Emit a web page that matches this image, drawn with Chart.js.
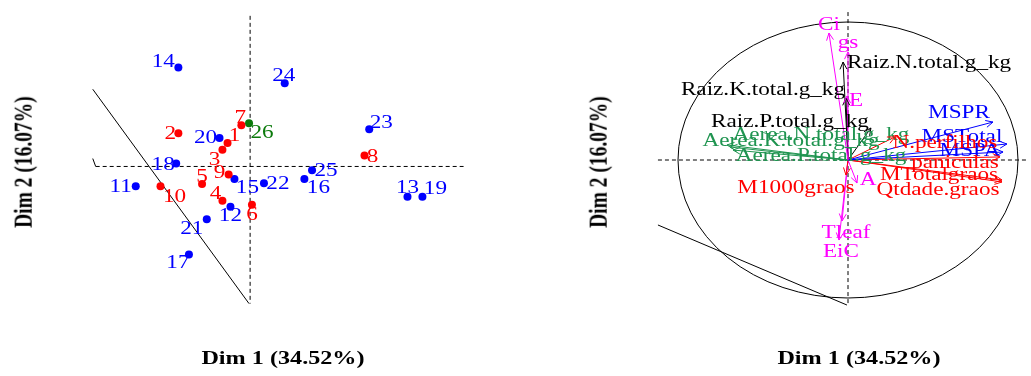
<!DOCTYPE html>
<html>
<head>
<meta charset="utf-8">
<script src="https://cdn.jsdelivr.net/npm/chart.js@4.4.0/dist/chart.umd.min.js"></script>
<style>
body{margin:0;background:#fff;width:1031px;height:376px;overflow:hidden;position:relative;font-family:"Liberation Serif","Times New Roman",serif;}
canvas{position:absolute;top:0;}
.titulo{position:absolute;font-weight:bold;font-size:19.5px;white-space:nowrap;line-height:1;color:#000;}
</style>
</head>
<body>
<canvas id="ind" width="515" height="376" style="left:0"></canvas>
<canvas id="var" width="516" height="376" style="left:515px"></canvas>
<div class="titulo" style="left:283px;top:358px;transform:translate(-50%,-50%) scaleX(1.24)">Dim 1 (34.52%)</div>
<div class="titulo" style="left:859px;top:358px;transform:translate(-50%,-50%) scaleX(1.24)">Dim 1 (34.52%)</div>
<div class="titulo" style="left:24px;top:162px;transform:translate(-50%,-50%) scaleX(1.24) rotate(-90deg)">Dim 2 (16.07%)</div>
<div class="titulo" style="left:599px;top:162px;transform:translate(-50%,-50%) scaleX(1.24) rotate(-90deg)">Dim 2 (16.07%)</div>
<script>
// Individuos (grafico da esquerda)
const indNomes = ['1','2','3','4','5','6','7','8','9','10','11','12','13','14','15','16','17','18','19','20','21','22','23','24','25','26'];
const indDim1 = [-0.62,-1.97,-0.76,-0.76,-1.32,0.05,-0.24,3.14,-0.59,-2.46,-3.14,-0.54,4.32,-1.97,-0.43,1.49,-1.68,-2.03,4.73,-0.84,-1.19,0.38,3.27,0.95,1.70,-0.03];
const indDim2 = [0.80,1.13,0.57,-1.17,-0.60,-1.30,1.40,0.37,-0.27,-0.67,-0.67,-1.37,-1.03,3.37,-0.43,-0.43,-3.00,0.10,-1.03,0.97,-1.80,-0.57,1.27,2.83,-0.13,1.47];
const indGrupo = [0,0,0,0,0,0,0,0,0,0,1,1,1,1,1,1,1,1,1,1,1,1,1,1,1,2];

// Variaveis (circulo de correlacoes)
const varNomes = ['Ci','gs','Raiz.N.total.g_kg','Raiz.K.total.g_kg','E','Raiz.P.total.g_kg','Aerea.N.total.g_kg','Aerea.K.total.g_kg','Aerea.P.total.g_kg','MSPR','MSTotal','MSPA','N.perfilhos','paniculas','MTotalgraos','Qtdade.graos','M1000graos','A','Tleaf','EiC'];
const varDim1 = [-0.112,0.0,-0.029,-0.012,-0.006,0.135,-0.712,-0.694,-0.676,0.853,0.935,0.912,0.276,0.894,0.906,0.906,-0.012,0.053,-0.035,-0.053];
const varDim2 = [0.920,0.783,0.710,0.449,0.464,0.232,0.109,0.094,0.072,0.275,0.116,0.058,0.167,0.022,-0.145,-0.159,-0.109,-0.167,-0.442,-0.580];
const varGrupo = [3,3,4,4,3,4,2,2,2,1,1,1,0,0,0,0,0,3,3,3];

const coresInd = ['#ff0000','#0000ff','#0b7a0b'];
const coresVar = ['#ff0000','#0000ff','#1f9450','#ff00ff','#000000'];

// posicao dos rotulos (px, relativo ao ponto)
const offInd = {
  '1':[7,-7],'2':[-8,1],'3':[-8,10],'4':[-7,-7],'5':[0,-7],'6':[0,10],'7':[-1,-7],'8':[8,1],'9':[-9,-1],'10':[14,11],
  '11':[-15,1],'12':[0,9],'13':[0,-9],'14':[-15,-6],'15':[13,9],'16':[14,9],'17':[-11,8],'18':[-13,1],'19':[13,-8],'20':[-14,0],
  '21':[-15,10],'22':[14,1],'23':[12,-6],'24':[-1,-7],'25':[14,1],'26':[13,10]
};
const offVar = {
  'Ci':[0,-8],'gs':[0,-9],'Raiz.N.total.g_kg':[86,1],'Raiz.K.total.g_kg':[-83,-8],'E':[9,5],'Raiz.P.total.g_kg':[-81,-6],
  'Aerea.N.total.g_kg':[94,-10],'Aerea.K.total.g_kg':[61,-6],'Aerea.P.total.g_kg':[88,6],'MSPR':[-34,-9],'MSTotal':[-45,-7],
  'MSPA':[-33,-1],'N.perfilhos':[50,6],'paniculas':[-45,6],'MTotalgraos':[-63,-5],'Qtdade.graos':[-64,8],'M1000graos':[-50,13],
  'A':[11,-3],'Tleaf':[4,12],'EiC':[2,12]
};

const ESTICA = 1.22;

function texto(ctx, s, x, y, cor) {
    ctx.save();
    ctx.translate(x, y);
    ctx.scale(ESTICA, 1);
    ctx.fillStyle = cor;
    ctx.font = '19px "Liberation Serif", serif';
    ctx.textAlign = 'center';
    ctx.textBaseline = 'middle';
    ctx.fillText(s, 0, 0);
    ctx.restore();
}

function linhaTracejada(d) {
    return { data: d, showLine: true, borderColor: '#000', borderWidth: 1, borderDash: [4, 3], pointRadius: 0, order: 5 };
}
function linhaSolida(d) {
    return { data: d, showLine: true, borderColor: '#000', borderWidth: 1, pointRadius: 0, order: 5 };
}

function eixos(x0, x1, y0, y1) {
    return {
        x: { type: 'linear', display: false, min: x0, max: x1 },
        y: { type: 'linear', display: false, min: y0, max: y1 }
    };
}

// ---- grafico dos individuos
const dsInd = [0, 1, 2].map(g => ({
    data: indNomes.map((n, i) => ({ x: indDim1[i], y: indDim2[i], g: indGrupo[i] })).filter(p => p.g === g),
    backgroundColor: coresInd[g],
    borderColor: coresInd[g],
    pointRadius: 4,
    pointBorderWidth: 0,
    order: 1
}));
dsInd.push(linhaTracejada([{ x: 0, y: 5.13 }, { x: 0, y: -4.67 }]));
dsInd.push(linhaTracejada([{ x: -4.24, y: 0 }, { x: 5.86, y: 0 }]));
dsInd.push(linhaSolida([{ x: -4.32, y: 2.63 }, { x: -0.03, y: -4.67 }]));
dsInd.push(linhaSolida([{ x: -4.32, y: 0.27 }, { x: -4.24, y: 0 }]));

new Chart(document.getElementById('ind'), {
    type: 'scatter',
    data: { datasets: dsInd },
    options: {
        responsive: false,
        animation: false,
        layout: { padding: 0 },
        plugins: { legend: { display: false }, tooltip: { enabled: false } },
        scales: eixos(-250 / 37, 265 / 37, -210 / 30, 166 / 30)
    },
    plugins: [{
        id: 'rotulosInd',
        afterDatasetsDraw(chart) {
            const ctx = chart.ctx, sx = chart.scales.x, sy = chart.scales.y;
            indNomes.forEach((n, i) => {
                const o = offInd[n];
                texto(ctx, n, sx.getPixelForValue(indDim1[i]) + o[0], sy.getPixelForValue(indDim2[i]) + o[1], coresInd[indGrupo[i]]);
            });
        }
    }]
});

// ---- circulo das variaveis
const dsVar = varNomes.map((n, i) => ({
    data: [{ x: 0, y: 0 }, { x: varDim1[i], y: varDim2[i] }],
    showLine: true,
    borderColor: coresVar[varGrupo[i]],
    borderWidth: 1,
    pointRadius: 0,
    order: 1
}));
dsVar.push(linhaTracejada([{ x: 0, y: 1.072 }, { x: 0, y: -1.058 }]));
dsVar.push(linhaTracejada([{ x: -1.118, y: 0 }, { x: 1.059, y: 0 }]));
dsVar.push(linhaSolida([{ x: -1.118, y: -0.471 }, { x: -0.006, y: -1.051 }]));

new Chart(document.getElementById('var'), {
    type: 'scatter',
    data: { datasets: dsVar },
    options: {
        responsive: false,
        animation: false,
        layout: { padding: 0 },
        plugins: { legend: { display: false }, tooltip: { enabled: false } },
        scales: eixos(-333 / 170, 183 / 170, -216 / 138, 160 / 138)
    },
    plugins: [{
        id: 'circulo',
        beforeDatasetsDraw(chart) {
            const ctx = chart.ctx, sx = chart.scales.x, sy = chart.scales.y;
            const cx = sx.getPixelForValue(0), cy = sy.getPixelForValue(0);
            ctx.save();
            ctx.strokeStyle = '#000';
            ctx.lineWidth = 1;
            ctx.beginPath();
            ctx.ellipse(cx, cy, sx.getPixelForValue(1) - cx, cy - sy.getPixelForValue(1), 0, 0, Math.PI * 2);
            ctx.stroke();
            ctx.restore();
        },
        afterDatasetsDraw(chart) {
            const ctx = chart.ctx, sx = chart.scales.x, sy = chart.scales.y;
            const cx = sx.getPixelForValue(0), cy = sy.getPixelForValue(0);
            varNomes.forEach((n, i) => {
                const px = sx.getPixelForValue(varDim1[i]), py = sy.getPixelForValue(varDim2[i]);
                const ang = Math.atan2(py - cy, px - cx);
                const cor = coresVar[varGrupo[i]];
                ctx.save();
                ctx.strokeStyle = cor;
                ctx.lineWidth = 1;
                ctx.beginPath();
                [-0.45, 0.45].forEach(a => {
                    ctx.moveTo(px, py);
                    ctx.lineTo(px - 8 * Math.cos(ang + a), py - 8 * Math.sin(ang + a));
                });
                ctx.stroke();
                ctx.restore();
                const o = offVar[n];
                texto(ctx, n, px + o[0], py + o[1], cor);
            });
        }
    }]
});
</script>
</body>
</html>
